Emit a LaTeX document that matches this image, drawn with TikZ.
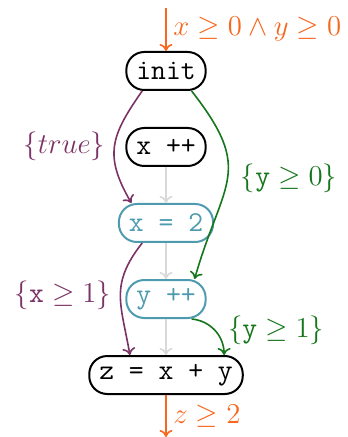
\documentclass[tikz,border=0pt]{standalone}
\usepackage{amsmath, amssymb}
\usetikzlibrary{positioning, arrows.meta}
\definecolor{cfgorange}{HTML}{F7671E}
\definecolor{cfgteal}{HTML}{4E9BAF}
\definecolor{cfgplum}{HTML}{7B3366}
\definecolor{cfggreen}{HTML}{16761C}
\colorlet{cfggray}{black!15}
\tikzset{
    stmt node/.style={rectangle, rounded corners=9pt, draw, line width=1pt, minimum height=19pt, inner xsep=5pt, font=\ttfamily\Large},
    live node/.style={stmt node, draw=cfgteal, text=cfgteal},
    flow edge/.style={-{To[length=3.5pt, width=6.5pt]}, thick, cfggray},
    cond edge/.style={-{To[length=3.5pt, width=6.5pt]}, thick},
    edge label/.style={font=\Large},
}

\begin{document}
\begin{tikzpicture}[x=1pt, y=1pt, node distance=18pt]
    \useasboundingbox (0,0) rectangle (173.5,-218.5);
    % statements
    \node[stmt node] (init) at (83,-35.5) {init};
    \node[stmt node, below=of init] (incx) {x ++};
    \node[live node, below=of incx] (setx) {x = 2};
    \node[live node, below=of setx] (incy) {y ++};
    \node[stmt node, below=of incy] (sum) {z = x + y};
    \coordinate (entry) at (83,-4);
    \coordinate (exit) at (83,-218.5);
    % pre and post conditions
    \draw[cond edge, cfgorange] (entry) -- node[right, edge label] {$x \geq 0 \wedge y \geq 0$} (init);
    \draw[cond edge, cfgorange] (sum) -- node[right, edge label] {$z \geq 2$} (exit);
    % control flow
    \foreach \src/\dst in {incx/setx, setx/incy, incy/sum}
        \draw[flow edge] (\src) -- (\dst);
    % dependencies
    \draw[cond edge, cfgplum] (init.-140) to[out=-125, in=120, looseness=1.25]
        node[left, edge label, xshift=-1pt] {$\{true\}$} (setx.150);
    \draw[cond edge, cfgplum] (setx.-140) to[out=-128, in=100, looseness=1.2]
        node[left, edge label, xshift=-1pt] {$\{\texttt{x} \geq 1\}$} (sum.151);
    \draw[cond edge, cfggreen] (init.-38) to[out=-52, in=74, looseness=1.4]
        node[right, edge label, xshift=3pt] {$\{\texttt{y} \geq 0\}$} (incy.35);
    \draw[cond edge, cfggreen] (incy.-38) to[out=-5, in=90]
        node[pos=0.55, right, edge label, xshift=2pt, yshift=1pt] {$\{\texttt{y} \geq 1\}$} (sum.19);
\end{tikzpicture}
\end{document}
